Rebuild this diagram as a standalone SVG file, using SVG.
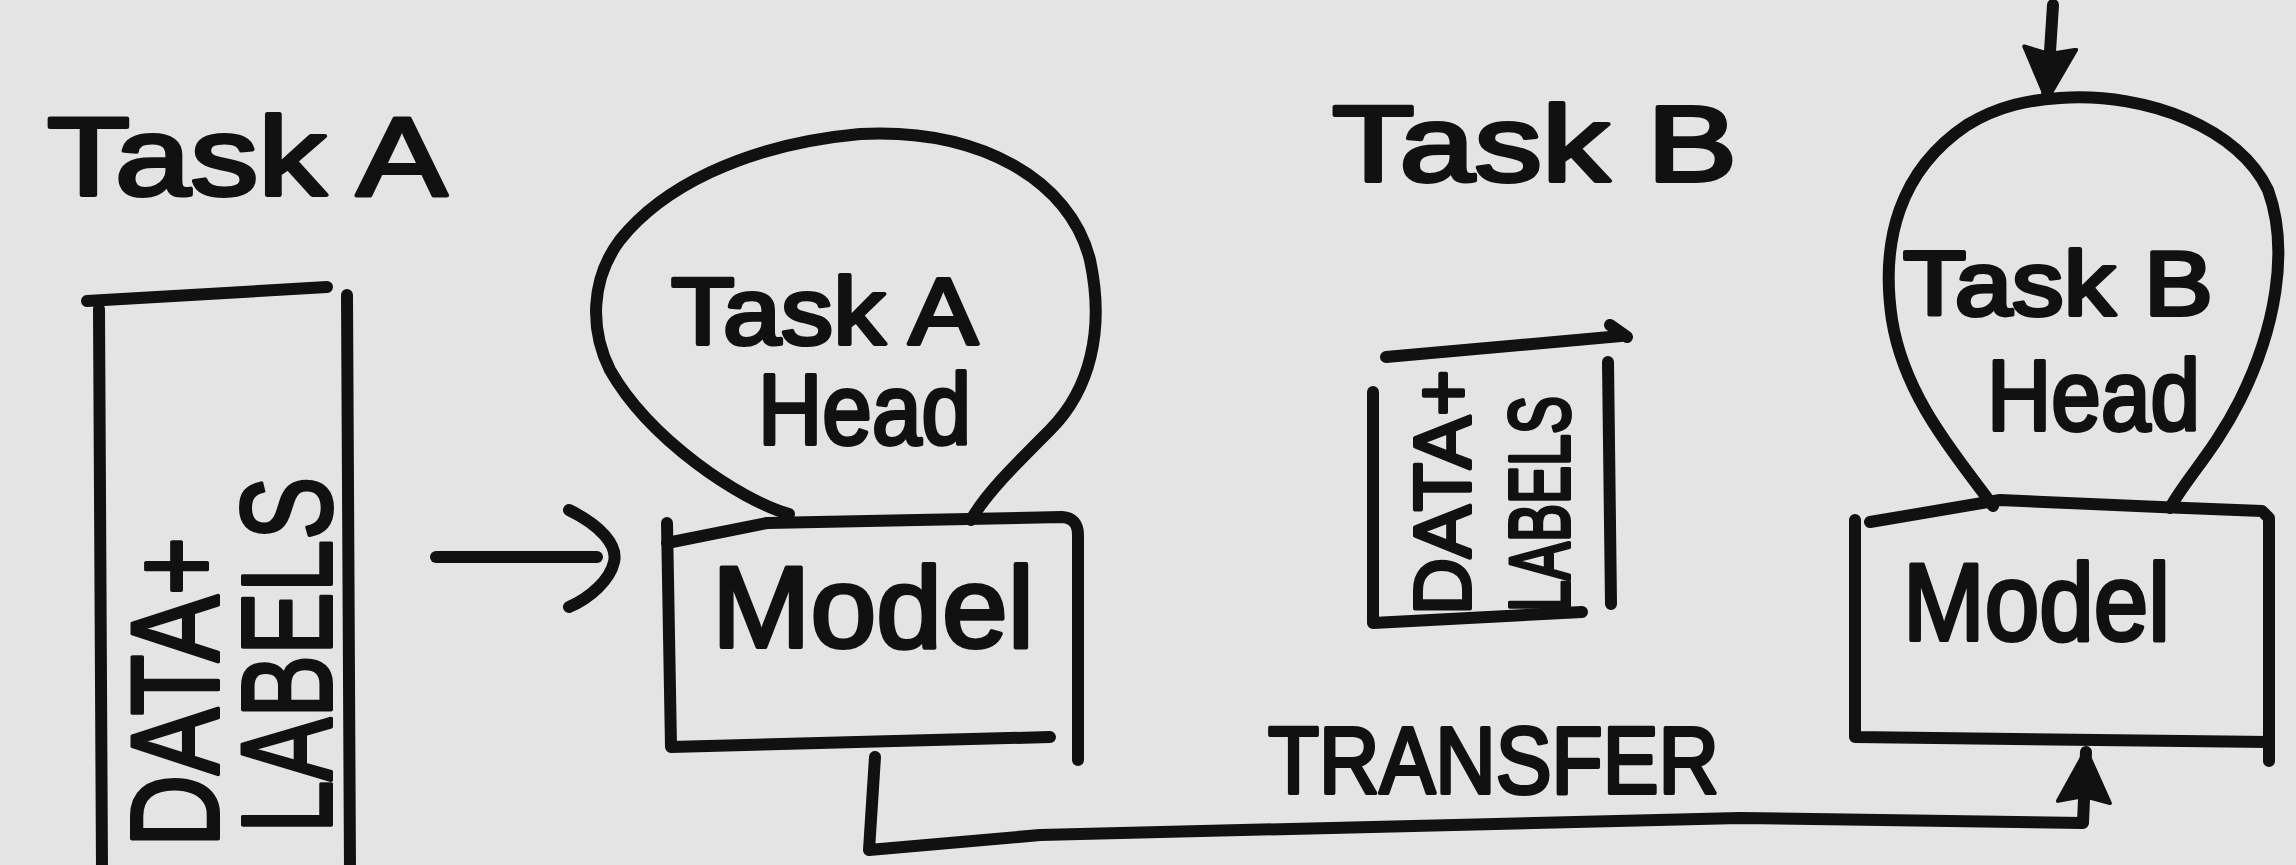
<svg xmlns="http://www.w3.org/2000/svg" width="2296" height="865" viewBox="0 0 2296 865">
<defs>
<style>
.ln{fill:none;stroke:#111;stroke-width:12;stroke-linecap:round;stroke-linejoin:round}
.t{font-family:"Liberation Sans",Arial,sans-serif;fill:#111;stroke:#111;stroke-width:4;stroke-linejoin:round}
</style>
<marker id="head" markerUnits="userSpaceOnUse" markerWidth="60" markerHeight="60" viewBox="0 0 60 60" refX="52" refY="30" orient="auto">
<path d="M2,4 L54,30 L2,56 L8,30 Z" fill="#111" stroke="#111" stroke-width="4" stroke-linejoin="round"/>
</marker>
</defs>
<rect x="0" y="0" width="2296" height="865" fill="#e4e4e4"/>

<g id="title-task-a">
<text class="t" x="47" y="195" font-size="112" textLength="400" lengthAdjust="spacingAndGlyphs">Task A</text>
</g>
<g id="title-task-b">
<text class="t" x="1332" y="181" font-size="108" textLength="405" lengthAdjust="spacingAndGlyphs">Task B</text>
</g>

<g id="data-a">
<path class="ln" d="M87,301 L327,287"/>
<path class="ln" d="M99,309 L102,870"/>
<path class="ln" d="M347,295 L350,870"/>
<text class="t" transform="translate(218,847) rotate(-90)" font-size="125" textLength="310" lengthAdjust="spacingAndGlyphs">DATA+</text>
<text class="t" transform="translate(331,833) rotate(-90)" font-size="128" textLength="356" lengthAdjust="spacingAndGlyphs">LABELS</text>
</g>

<g id="head-a">
<path class="ln" d="M789,514 C740,500 650,440 610,370 C590,330 590,280 620,240 C660,190 740,145 860,134 C980,128 1070,180 1090,260 C1105,330 1090,390 1050,430 C1010,470 985,495 971,520"/>
<text class="t" x="671" y="344" font-size="95" textLength="307" lengthAdjust="spacingAndGlyphs">Task A</text>
<text class="t" x="758" y="444" font-size="100" textLength="213" lengthAdjust="spacingAndGlyphs">Head</text>
</g>

<g id="model-a">
<path class="ln" d="M667,543 L767,523 L1062,517 Q1078,518 1078,535 L1078,760"/>
<path class="ln" d="M667,523 L671,747 L1050,737"/>
<text class="t" x="712" y="647" font-size="115" textLength="322" lengthAdjust="spacingAndGlyphs">Model</text>
</g>

<g id="data-b">
<path class="ln" d="M1386,357 L1621,336 M1610,325 L1627,337"/>
<path class="ln" d="M1373,392 L1373,623 L1582,612"/>
<path class="ln" d="M1608,362 L1611,604"/>
<text class="t" transform="translate(1470,615) rotate(-90)" font-size="80" textLength="245" lengthAdjust="spacingAndGlyphs">DATA+</text>
<text class="t" transform="translate(1569,612) rotate(-90)" font-size="86" textLength="216" lengthAdjust="spacingAndGlyphs">LABELS</text>
</g>

<g id="head-b">
<path class="ln" d="M1993,506 C1960,460 1905,400 1892,320 C1880,240 1900,170 1967,125 C2000,105 2030,100 2060,98 C2150,92 2240,130 2268,190 C2290,250 2275,330 2240,400 C2215,450 2185,480 2170,508"/>
<text class="t" x="1903" y="315" font-size="90" textLength="310" lengthAdjust="spacingAndGlyphs">Task B</text>
<text class="t" x="1987" y="430" font-size="100" textLength="213" lengthAdjust="spacingAndGlyphs">Head</text>
</g>

<g id="model-b">
<path class="ln" d="M1870,522 L2000,500 L2160,507 L2262,511 L2269,518 L2269,761"/>
<path class="ln" d="M1855,520 L1855,737 L2269,742"/>
<text class="t" x="1903" y="640" font-size="110" textLength="267" lengthAdjust="spacingAndGlyphs">Model</text>
</g>

<g id="transfer-label">
<text class="t" x="1268" y="793" font-size="95" textLength="451" lengthAdjust="spacingAndGlyphs">TRANSFER</text>
</g>

<g id="connectors">
<path class="ln" d="M436,557 L597,557"/>
<path class="ln" d="M569,510 C600,525 618,545 614,562 C610,580 590,598 569,607"/>
<path class="ln" d="M875,757 L869,850 L1040,835 L1740,818 L2083,823 L2086,752" marker-end="url(#head)"/>
<path class="ln" d="M2053,5 L2047,98" marker-end="url(#head)"/>
</g>
</svg>
